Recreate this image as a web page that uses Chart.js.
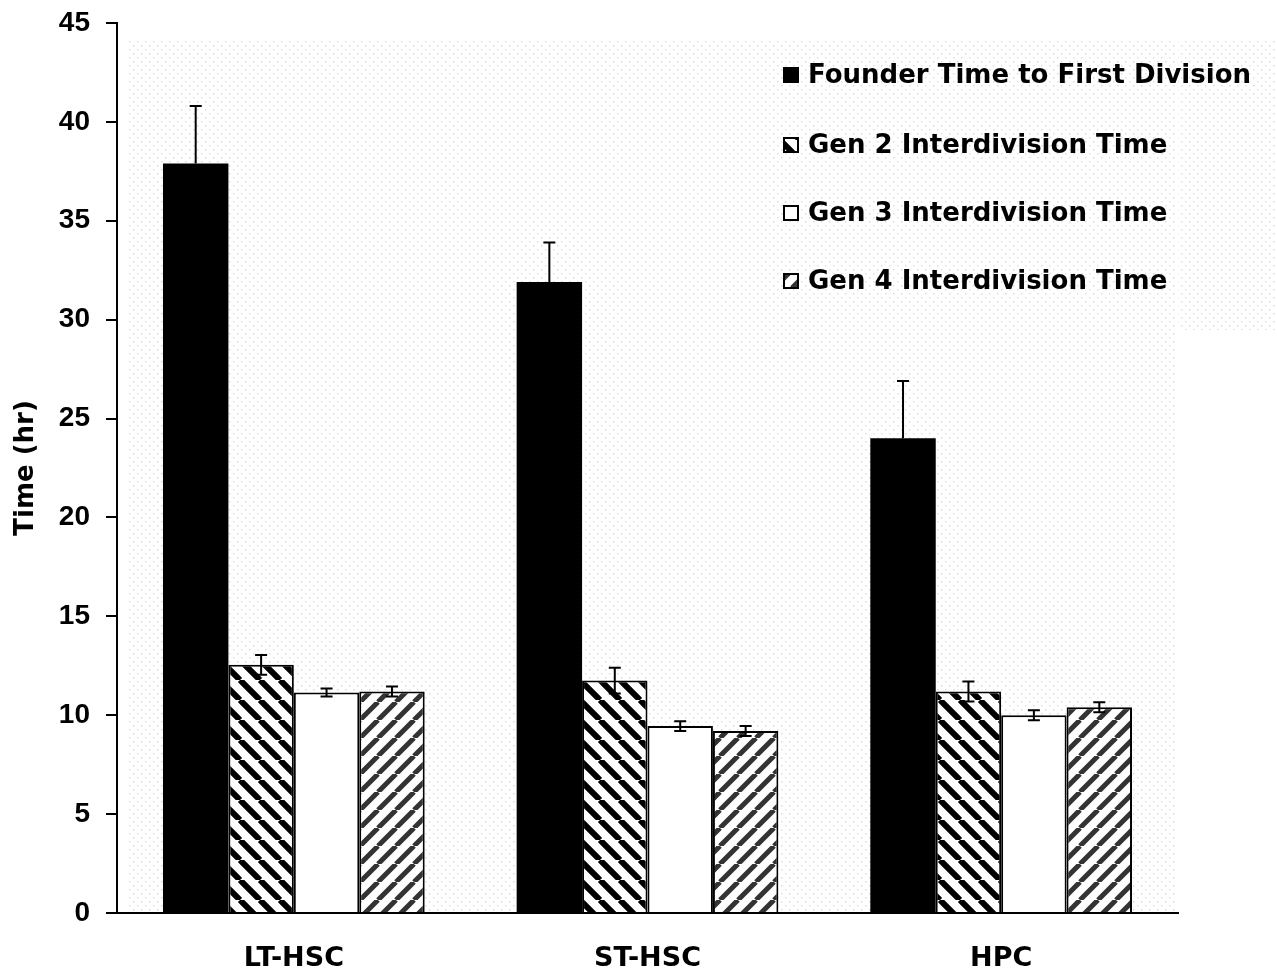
<!DOCTYPE html>
<html>
<head>
<meta charset="utf-8">
<title>Time to division</title>
<script src="https://cdn.jsdelivr.net/npm/chart.js"></script>
<style>
  body { margin: 0; background: #fff; }
  #wrap { width: 1277px; height: 975px; }
</style>
</head>
<body>
<div id="wrap"><canvas id="c" width="1277" height="975"></canvas></div>
<script>
// values
var categories = ["LT-HSC", "ST-HSC", "HPC"];
var seriesNames = ["Founder Time to First Division", "Gen 2 Interdivision Time",
                   "Gen 3 Interdivision Time", "Gen 4 Interdivision Time"];
var founder = [37.9, 31.9, 24.0];
var gen2 = [12.55, 11.75, 11.2];
var gen3 = [11.15, 9.45, 10.0];
var gen4 = [11.2, 9.2, 10.4];
var founderErr = [2.9, 2.0, 2.9];
var gen2Err = [0.5, 0.65, 0.5];
var gen3Err = [0.2, 0.25, 0.25];
var gen4Err = [0.25, 0.25, 0.25];
var yTicks = [0, 5, 10, 15, 20, 25, 30, 35, 40, 45];

var ctx = document.getElementById('c').getContext('2d');

function stripes(color, dir, s, w) {
    var c = document.createElement('canvas');
    c.width = s; c.height = s;
    var g = c.getContext('2d');
    g.fillStyle = '#fff';
    g.fillRect(0, 0, s, s);
    g.strokeStyle = color;
    g.lineWidth = w;
    g.beginPath();
    for (var k = -1; k <= 1; k++) {
        if (dir > 0) { g.moveTo(k * s, s); g.lineTo(k * s + s, 0); }
        else { g.moveTo(k * s, 0); g.lineTo(k * s + s, s); }
    }
    g.stroke();
    return ctx.createPattern(c, 'repeat');
}

function dots() {
    var c = document.createElement('canvas');
    c.width = 8; c.height = 8;
    var g = c.getContext('2d');
    g.fillStyle = '#dedede';
    g.fillRect(1, 1, 1.5, 1.5);
    g.fillRect(5, 5, 1.5, 1.5);
    return ctx.createPattern(c, 'repeat');
}

var back = dots();
var hatch2 = stripes('#000', -1, 20, 6);
var hatch4 = stripes('#333', 1, 18, 5);

var errors = [founderErr, gen2Err, gen3Err, gen4Err];

// dotted plot background
var bgPlugin = {
    id: 'bg',
    beforeDatasetsDraw: function(chart) {
        var a = chart.chartArea, c = chart.ctx;
        c.save();
        c.fillStyle = back;
        c.fillRect(a.left + 11, a.top + 17, a.right - a.left - 12, a.bottom - a.top - 18);
        c.fillRect(a.right, a.top + 17, chart.width - a.right, 290);
        c.restore();
    }
};

// error bars, computed from the data through the y scale
var errPlugin = {
    id: 'errbars',
    afterDatasetsDraw: function(chart) {
        var c = chart.ctx, y = chart.scales.y;
        c.save();
        c.strokeStyle = '#000';
        c.lineWidth = 2;
        chart.data.datasets.forEach(function(ds, i) {
            var meta = chart.getDatasetMeta(i);
            meta.data.forEach(function(bar, j) {
                var v = ds.data[j], e = errors[i][j];
                var top = y.getPixelForValue(v + e);
                var bot = i === 0 ? y.getPixelForValue(v) : y.getPixelForValue(v - e);
                c.beginPath();
                c.moveTo(bar.x, bot); c.lineTo(bar.x, top);
                c.moveTo(bar.x - 6, top); c.lineTo(bar.x + 6, top);
                if (i !== 0) { c.moveTo(bar.x - 6, bot); c.lineTo(bar.x + 6, bot); }
                c.stroke();
            });
        });
        c.restore();
    }
};

// legend inside the plot, top right
var legendPlugin = {
    id: 'inlegend',
    afterDraw: function(chart) {
        var c = chart.ctx;
        var rows = [75, 145, 213, 281];
        c.save();
        c.font = 'bold 26px "DejaVu Sans"';
        c.textBaseline = 'middle';
        c.fillStyle = '#000';
        chart.data.datasets.forEach(function(ds, i) {
            var ry = rows[i];
            c.fillStyle = ds.backgroundColor;
            c.fillRect(784, ry - 7, 14, 14);
            c.strokeStyle = '#000';
            c.lineWidth = 2;
            c.strokeRect(784, ry - 7, 14, 14);
            c.fillStyle = '#000';
            c.fillText(ds.label, 808, ry + 1);
        });
        c.restore();
    }
};

function bars(label, data, fill, border) {
    return {
        label: label,
        data: data,
        backgroundColor: fill,
        borderColor: '#000',
        borderWidth: border,
        borderSkipped: 'bottom',
        categoryPercentage: 0.74,
        barPercentage: 1.0
    };
}

new Chart(ctx, {
    type: 'bar',
    data: {
        labels: categories,
        datasets: [
            bars(seriesNames[0], founder, '#000', 0),
            bars(seriesNames[1], gen2, hatch2, 2),
            bars(seriesNames[2], gen3, '#fff', 2),
            bars(seriesNames[3], gen4, hatch4, 2)
        ]
    },
    options: {
        responsive: false,
        animation: false,
        layout: { padding: { top: 23, right: 99, bottom: 0, left: 0 } },
        plugins: {
            legend: { display: false },
            tooltip: { enabled: false }
        },
        scales: {
            x: {
                grid: { display: false, drawTicks: false },
                border: { display: true, color: '#000', width: 2 },
                ticks: {
                    color: '#000',
                    padding: 30,
                    font: { family: 'DejaVu Sans', size: 27, weight: 'bold' }
                },
                afterFit: function(s) { s.height = 62; s.paddingLeft = 0; s.paddingRight = 0; }
            },
            y: {
                min: 0,
                max: 45,
                afterBuildTicks: function(s) {
                    s.ticks = yTicks.map(function(v) { return { value: v }; });
                },
                grid: {
                    drawOnChartArea: false,
                    drawTicks: true,
                    tickLength: 11,
                    tickColor: '#000',
                    lineWidth: 2
                },
                border: { display: true, color: '#000', width: 2 },
                ticks: {
                    color: '#000',
                    padding: 16,
                    font: { family: 'Liberation Sans', size: 28, weight: 'bold' }
                },
                title: {
                    display: true,
                    text: 'Time (hr)',
                    color: '#000',
                    padding: { top: 11, bottom: 0 },
                    font: { family: 'DejaVu Sans', size: 26, weight: 'bold' }
                },
                afterFit: function(s) { s.width = 117; s.paddingTop = 0; s.paddingBottom = 0; }
            }
        }
    },
    plugins: [bgPlugin, errPlugin, legendPlugin]
});
</script>
</body>
</html>
